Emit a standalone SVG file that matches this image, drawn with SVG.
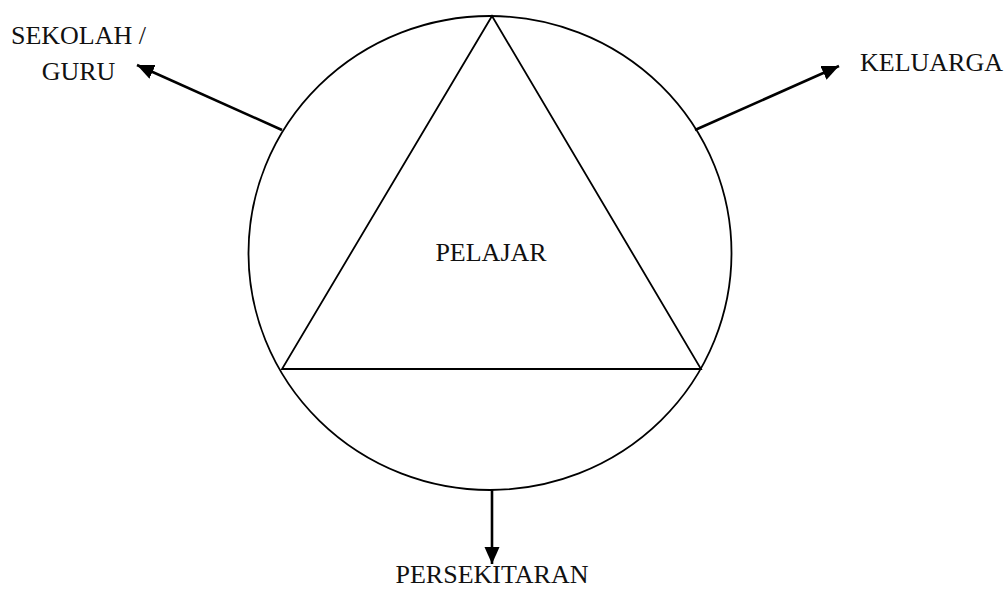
<svg xmlns="http://www.w3.org/2000/svg" width="1007" height="589" viewBox="0 0 1007 589">
<style>
.shape{fill:none;stroke:#000;stroke-width:1.8}
.conn{fill:none;stroke:#000;stroke-width:2.6}
text{font-family:"Liberation Serif","Times New Roman",serif;font-size:26px;fill:#111}
</style>
<defs>
<marker id="ah" markerUnits="userSpaceOnUse" markerWidth="18" markerHeight="16" refX="17" refY="7.5" orient="auto">
<path d="M0,0 L17,7.5 L0,15 z" fill="#000"/>
</marker>
</defs>
<rect width="1007" height="589" fill="#fff"/>
<g id="circle"><ellipse class="shape" cx="490" cy="253" rx="241.5" ry="237"/></g>
<g id="pelajar">
<polygon class="shape" points="492,16 282,369 701,369"/>
<text x="491" y="261" text-anchor="middle">PELAJAR</text>
</g>
<g id="sekolah"><text x="78.5" y="44" text-anchor="middle">SEKOLAH /</text><text x="78.5" y="80" text-anchor="middle">GURU</text></g>
<g id="keluarga"><text x="860" y="71">KELUARGA</text></g>
<g id="persekitaran"><text x="492" y="583" text-anchor="middle">PERSEKITARAN</text></g>
<g id="connectors">
<line class="conn" x1="282" y1="130" x2="137" y2="65" marker-end="url(#ah)"/>
<line class="conn" x1="695" y1="130" x2="839" y2="66" marker-end="url(#ah)"/>
<line class="conn" x1="492" y1="490" x2="492" y2="564" marker-end="url(#ah)"/>
</g>
</svg>
